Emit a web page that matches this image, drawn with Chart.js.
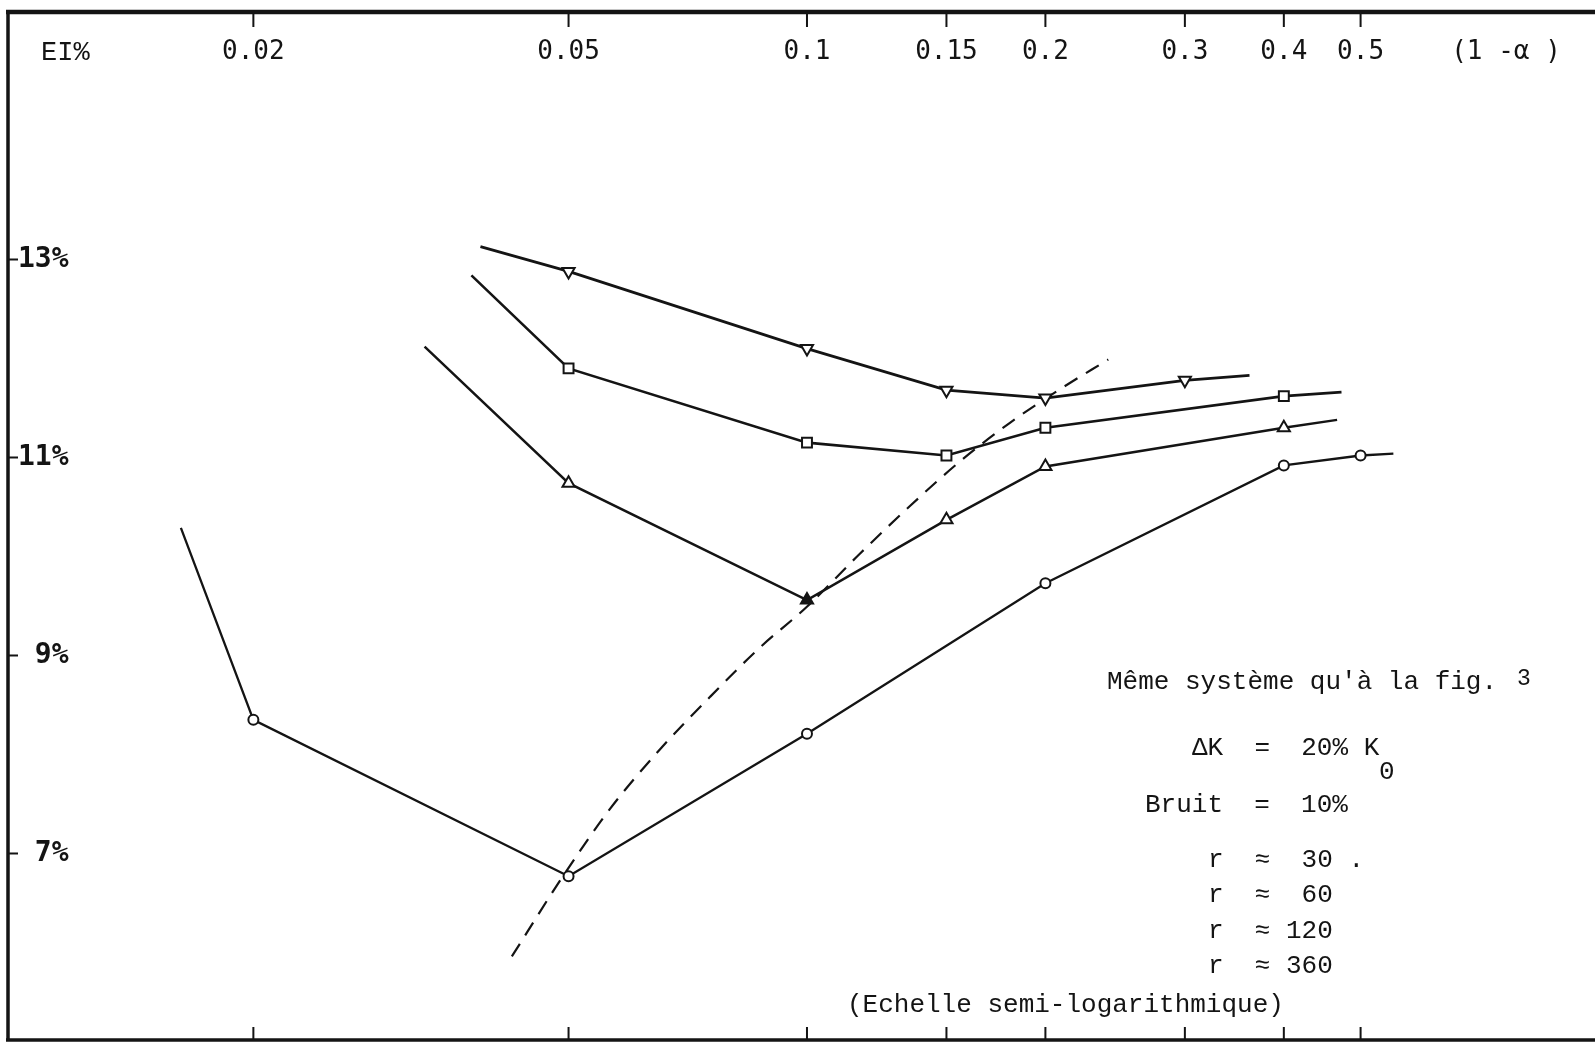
<!DOCTYPE html>
<html>
<head>
<meta charset="utf-8">
<script src="https://cdn.jsdelivr.net/npm/chart.js@4.4.1/dist/chart.umd.min.js"></script>
<style>
  html, body { margin: 0; padding: 0; background: #fff; }
  #wrap { width: 1595px; height: 1043px; }
</style>
</head>
<body>
<div id="wrap"><canvas id="fig" width="1595" height="1043"></canvas></div>
<script>
// (1 - alpha) of each measured point, one pair of arrays per curve
const alphaDown = [0.0387, 0.05, 0.1, 0.15, 0.2, 0.3, 0.362];
const eiDown = [13.13, 12.88, 12.10, 11.68, 11.60, 11.78, 11.83];

const alphaSquare = [0.0377, 0.05, 0.1, 0.15, 0.2, 0.4, 0.473];
const eiSquare = [12.84, 11.90, 11.15, 11.02, 11.30, 11.62, 11.66];

const alphaUp = [0.0329, 0.05, 0.1, 0.15, 0.2, 0.4, 0.467];
const eiUp = [12.12, 10.74, 9.56, 10.37, 10.91, 11.30, 11.38];

const alphaCircle = [0.0162, 0.02, 0.05, 0.1, 0.2, 0.4, 0.5, 0.55];
const eiCircle = [10.29, 8.35, 6.77, 8.21, 9.73, 10.92, 11.02, 11.04];

// dashed curve through the minima
const alphaMin = [0.0424, 0.049, 0.0564, 0.0652, 0.0754, 0.0872, 0.0999, 0.1167, 0.1349, 0.1560, 0.1804, 0.2087, 0.2401];
const eiMin = [5.96, 6.75, 7.45, 8.05, 8.58, 9.08, 9.49, 10.03, 10.51, 10.96, 11.35, 11.69, 11.99];

const xTicks = [0.02, 0.05, 0.1, 0.15, 0.2, 0.3, 0.4, 0.5];
const xTickLabels = ['0.02', '0.05', '0.1', '0.15', '0.2', '0.3', '0.4', '0.5'];
const yTicks = [13, 11, 9, 7];
const yTickLabels = ['13%', '11%', ' 9%', ' 7%'];

const INK = '#141414';

function toPoints(xs, ys) {
  return xs.map((x, i) => ({ x: x, y: ys[i] }));
}

// no marker on the first and last point (line ends)
function endsHidden(r) {
  return (ctx) => {
    const n = ctx.dataset.data.length;
    return (ctx.dataIndex === 0 || ctx.dataIndex === n - 1) ? 0 : r;
  };
}

function curve(label, xs, ys, style, radius, width) {
  return {
    label: label,
    data: toPoints(xs, ys),
    borderColor: INK,
    borderWidth: width,
    pointStyle: style,
    pointRadius: endsHidden(radius),
    pointBorderColor: INK,
    pointBorderWidth: 2,
    pointBackgroundColor: '#fff',
    tension: 0,
    fill: false
  };
}

const down = curve('triangle down', alphaDown, eiDown, 'triangle', 7, 2.8);
down.pointRotation = 180;
const square = curve('square', alphaSquare, eiSquare, 'rect', 7, 2.6);
const up = curve('triangle up', alphaUp, eiUp, 'triangle', 7, 2.5);
up.pointBackgroundColor = (ctx) => ctx.dataIndex === 2 ? INK : '#fff';
const circle = curve('circle', alphaCircle, eiCircle, 'circle', 5, 2.3);

const minima = {
  label: 'minima',
  data: toPoints(alphaMin, eiMin),
  borderColor: INK,
  borderWidth: 2.2,
  borderDash: [15, 10],
  pointRadius: 0,
  cubicInterpolationMode: 'monotone',
  fill: false
};

const SANS = '"DejaVu Sans Mono", monospace';
const SERIF = '"Liberation Mono", "Courier New", monospace';

const framePlugin = {
  id: 'frame',
  afterDraw(chart) {
    const ctx = chart.ctx;
    const a = chart.chartArea;
    const xs = chart.scales.x;
    const ys = chart.scales.y;
    ctx.save();
    ctx.strokeStyle = INK;
    ctx.fillStyle = INK;

    // frame
    ctx.lineWidth = 4.5;
    ctx.beginPath();
    ctx.moveTo(a.left - 2, a.top);
    ctx.lineTo(a.right, a.top);
    ctx.stroke();
    ctx.lineWidth = 3.5;
    ctx.beginPath();
    ctx.moveTo(a.left, a.top);
    ctx.lineTo(a.left, a.bottom);
    ctx.moveTo(a.left - 2, a.bottom);
    ctx.lineTo(a.right, a.bottom);
    ctx.stroke();

    // x ticks, top and bottom, labels under the top line
    ctx.lineWidth = 2;
    ctx.font = '26px ' + SANS;
    ctx.textAlign = 'center';
    ctx.textBaseline = 'middle';
    xTicks.forEach((v, i) => {
      const px = xs.getPixelForValue(v);
      ctx.beginPath();
      ctx.moveTo(px, a.top);
      ctx.lineTo(px, a.top + 15);
      ctx.moveTo(px, a.bottom);
      ctx.lineTo(px, a.bottom - 13);
      ctx.stroke();
      ctx.fillText(xTickLabels[i], px, a.top + 40);
    });
    ctx.fillText('(1 -\u03b1 )', 1506, a.top + 40);

    // y ticks and labels
    ctx.font = 'bold 28px ' + SANS;
    ctx.textAlign = 'left';
    yTicks.forEach((v, i) => {
      const py = ys.getPixelForValue(v);
      ctx.beginPath();
      ctx.moveTo(a.left, py);
      ctx.lineTo(a.left + 10, py);
      ctx.stroke();
      ctx.fillText(yTickLabels[i], a.left + 10, py);
    });

    // annotations
    ctx.font = '27px ' + SERIF;
    ctx.textBaseline = 'alphabetic';
    ctx.fillText('EI%', 41, 60);

    ctx.font = '26px ' + SERIF;
    ctx.fillText('M\u00eame syst\u00e8me qu\'\u00e0 la fig.', 1107, 689);
    ctx.font = '23px ' + SERIF;
    ctx.fillText('3', 1517, 685);

    ctx.font = '26px ' + SERIF;
    ctx.fillText('\u0394K  =  20% K', 1192, 755);
    ctx.fillText('0', 1379, 779);
    ctx.fillText('Bruit  =  10%', 1145, 812);
    ctx.fillText('r  \u2248  30 .', 1208, 867);
    ctx.fillText('r  \u2248  60', 1208, 902);
    ctx.fillText('r  \u2248 120', 1208, 938);
    ctx.fillText('r  \u2248 360', 1208, 973);
    ctx.fillText('(Echelle semi-logarithmique)', 847, 1012);
    ctx.restore();
  }
};

new Chart(document.getElementById('fig'), {
  type: 'line',
  data: { datasets: [down, square, up, circle, minima] },
  options: {
    responsive: false,
    animation: false,
    devicePixelRatio: 1,
    layout: { padding: { left: 8, top: 12, right: 0, bottom: 3 } },
    plugins: {
      legend: { display: false },
      tooltip: { enabled: false }
    },
    scales: {
      x: { type: 'logarithmic', min: 0.0098, max: 0.9884, display: false },
      y: { type: 'linear', min: 5.116, max: 15.5, display: false }
    }
  },
  plugins: [framePlugin]
});
</script>
</body>
</html>
